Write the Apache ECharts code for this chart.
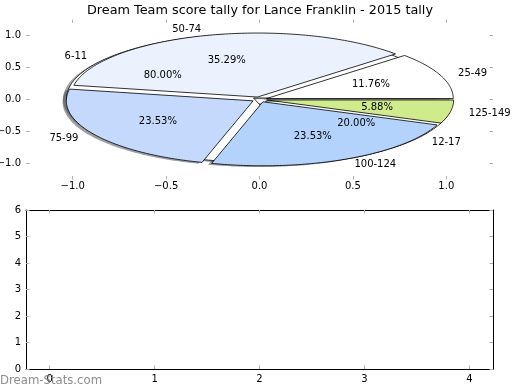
<!DOCTYPE html>
<html>
<head>
<meta charset="utf-8">
<script src="https://cdn.jsdelivr.net/npm/echarts@6/dist/echarts.min.js"></script>
<style>html,body{margin:0;padding:0;background:#fff;}#c{width:520px;height:390px;}</style>
</head>
<body>
<div id="c"></div>
<script>
// ---- data ----
const titleText = 'Dream Team score tally for Lance Franklin - 2015 tally';
const outerLabels = ['25-49', '50-74', '75-99', '100-124', '125-149'];
const outerValues = [2, 6, 4, 4, 1];
const innerLabels = ['6-11', '12-17'];
const innerValues = [4, 1];
const pieTicks = [-1, -0.5, 0, 0.5, 1];
const barXTicks = [0, 1, 2, 3, 4];
const barYTicks = [0, 1, 2, 3, 4, 5, 6];
const watermark = 'Dream-Stats.com';

// ---- styles ----
const outerColors = ['#ffffff', '#ebf2fe', '#c5d9fc', '#b3d3fd', '#cfeb8b'];
const innerColors = ['#ffffff', '#ffffff'];
const EXPLODE = 0.04;
const SHADOW_OFF = -0.02;
const FONT = 'DejaVu Sans';

function sum(a) { return a.reduce((s, v) => s + v, 0); }
function angles(vals, i) {
  const tot = sum(vals);
  let st = 0;
  for (let j = 0; j < i; j++) st += vals[j];
  const t1 = st / tot * 360, t2 = (st + vals[i]) / tot * 360;
  return [t1, t2, (t1 + t2) / 2];
}
function wedge(vals, i, off) {
  const [t1, t2, tm] = angles(vals, i);
  const m = tm * Math.PI / 180;
  const cx = EXPLODE * Math.cos(m) + off, cy = EXPLODE * Math.sin(m) + off;
  const pts = [[cx, cy]];
  const n = Math.max(2, Math.ceil(t2 - t1));
  for (let k = 0; k <= n; k++) {
    const a = (t1 + (t2 - t1) * k / n) * Math.PI / 180;
    pts.push([cx + Math.cos(a), cy + Math.sin(a)]);
  }
  return pts;
}
function shade(hex) {
  const r = parseInt(hex.slice(1, 3), 16), g = parseInt(hex.slice(3, 5), 16), b = parseInt(hex.slice(5, 7), 16);
  return 'rgba(' + Math.round(r * 0.3) + ',' + Math.round(g * 0.3) + ',' + Math.round(b * 0.3) + ',0.5)';
}
function wedgeSeries(vals, labels, colors, isShadow, z) {
  return {
    type: 'custom', coordinateSystem: 'cartesian2d', xAxisIndex: 0, yAxisIndex: 0,
    z: z, clip: false, silent: true,
    data: vals.map((v, i) => ({ value: [i, v], name: labels[i] })),
    renderItem: function (params, api) {
      const i = params.dataIndex;
      const pts = wedge(vals, i, isShadow ? SHADOW_OFF : 0).map(p => api.coord(p));
      if (isShadow) {
        return { type: 'polygon', shape: { points: pts }, style: { fill: shade(colors[i]), stroke: null } };
      }
      return { type: 'polygon', shape: { points: pts }, style: { fill: colors[i], stroke: '#000', lineWidth: 0.8 } };
    }
  };
}
function labelSeries(vals, labels) {
  const tot = sum(vals);
  return {
    type: 'custom', coordinateSystem: 'cartesian2d', xAxisIndex: 0, yAxisIndex: 0,
    z: 10, clip: false, silent: true,
    data: vals.map((v, i) => ({ value: [i, v], name: labels[i] })),
    renderItem: function (params, api) {
      const i = params.dataIndex;
      const tm = angles(vals, i)[2] * Math.PI / 180;
      const lx = (EXPLODE + 1.1) * Math.cos(tm), ly = (EXPLODE + 1.1) * Math.sin(tm);
      const px = (EXPLODE + 0.6) * Math.cos(tm), py = (EXPLODE + 0.6) * Math.sin(tm);
      const lp = api.coord([lx, ly]), pp = api.coord([px, py]);
      return {
        type: 'group', children: [
          { type: 'text', x: lp[0], y: lp[1], style: { text: labels[i], fill: '#000', font: '10px "' + FONT + '"', align: lx > 0 ? 'left' : 'right', verticalAlign: 'middle' } },
          { type: 'text', x: pp[0], y: pp[1], style: { text: (vals[i] / tot * 100).toFixed(2) + '%', fill: '#000', font: '10px "' + FONT + '"', align: 'center', verticalAlign: 'middle' } }
        ]
      };
    }
  };
}
function fmt1(v) { return (v < 0 ? '\u2212' : '') + Math.abs(v).toFixed(1); }

const tickStyle = { show: true, inside: true, length: 3.5, lineStyle: { color: '#b0b0b0', width: 1 } };
const labelBase = { color: '#000', fontFamily: FONT, fontSize: 10 };

function axis(grid, pos, min, max, ticks, showLabel, fmt, margin, lineShow) {
  return {
    type: 'value', gridIndex: grid, position: pos, min: min, max: max,
    axisLine: { show: lineShow, onZero: false, lineStyle: { color: '#000', width: 1 } },
    splitLine: { show: false },
    axisTick: Object.assign({ customValues: ticks }, tickStyle),
    axisLabel: Object.assign({ show: showLabel, customValues: ticks, formatter: fmt, margin: margin, showMinLabel: true, showMaxLabel: true }, labelBase)
  };
}

const chart = echarts.init(document.getElementById('c'), null, { renderer: 'canvas' });
chart.setOption({
  animation: false,
  backgroundColor: '#fff',
  title: { show: false },
  grid: [
    { left: 26, top: 19.5, width: 467, height: 160, outerBoundsMode: 'none', containLabel: false },
    { left: 26, top: 210, width: 467, height: 159, outerBoundsMode: 'none', containLabel: false }
  ],
  xAxis: [
    axis(0, 'bottom', -1.25, 1.25, pieTicks, true, fmt1, 2, false),
    axis(0, 'top', -1.25, 1.25, pieTicks, false, fmt1, 2, false),
    axis(1, 'bottom', -0.225, 4.225, barXTicks, true, v => String(v), 5, true),
    axis(1, 'top', -0.225, 4.225, barXTicks, false, v => String(v), 5, true)
  ],
  yAxis: [
    axis(0, 'left', -1.25, 1.25, pieTicks, true, fmt1, 5, false),
    axis(0, 'right', -1.25, 1.25, pieTicks, false, fmt1, 5, false),
    axis(1, 'left', 0, 6, barYTicks, true, v => String(v), 5, true),
    axis(1, 'right', 0, 6, barYTicks, false, v => String(v), 5, true)
  ],
  graphic: [
    { type: 'text', x: 260, y: 10.8, z: 100, style: { text: titleText, fill: '#000', font: '12.8px "' + FONT + '"', align: 'center', verticalAlign: 'middle' } },
    { type: 'text', x: 0, y: 380.5, z: 100, style: { text: watermark, fill: 'rgba(120,120,120,0.85)', font: '11.7px "' + FONT + '"', align: 'left', verticalAlign: 'middle' } }
  ],
  series: [
    wedgeSeries(innerValues, innerLabels, innerColors, true, 1),
    wedgeSeries(outerValues, outerLabels, outerColors, true, 1),
    wedgeSeries(innerValues, innerLabels, innerColors, false, 2),
    wedgeSeries(outerValues, outerLabels, outerColors, false, 3),
    labelSeries(innerValues, innerLabels),
    labelSeries(outerValues, outerLabels)
  ]
});
</script>
</body>
</html>
